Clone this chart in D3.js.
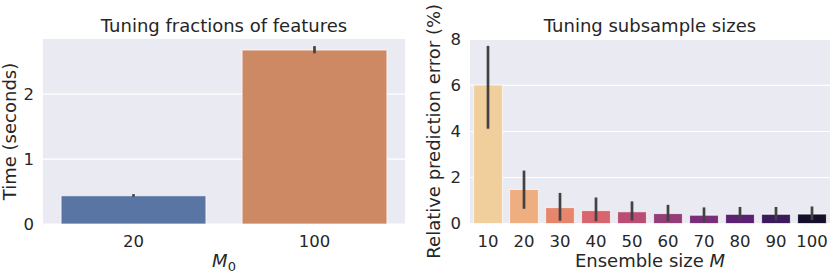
<!DOCTYPE html>
<html>
<head>
<meta charset="utf-8">
<script src="https://cdn.jsdelivr.net/npm/d3@7"></script>
<style>
  body { margin: 0; background: #fff; }
  svg text { font-family: "DejaVu Sans", sans-serif; fill: #262626; }
</style>
</head>
<body>
<div id="svg-container"></div>
<script>
// data
const featCats = ["20", "100"];
const featTime = [0.435, 2.68];
const featLo = [0.42, 2.63];
const featHi = [0.46, 2.74];
const featColors = ["#5975a4", "#cc8963"];

const sizeCats = ["10", "20", "30", "40", "50", "60", "70", "80", "90", "100"];
const sizeErr = [6.02, 1.48, 0.69, 0.56, 0.51, 0.43, 0.36, 0.40, 0.40, 0.41];
const sizeLo = [4.12, 0.64, 0.12, 0.10, 0.13, 0.10, 0.05, 0.15, 0.14, 0.15];
const sizeHi = [7.72, 2.30, 1.33, 1.13, 0.96, 0.81, 0.70, 0.72, 0.72, 0.74];
const sizeColors = ["#f1cf9d", "#eeae80", "#e6876d", "#d8646e", "#b94d73",
                    "#943d77", "#7a2e78", "#5b2173", "#3c1a5c", "#150f2c"];

const featTicks = [0, 1, 2];
const sizeTicks = [0, 2, 4, 6, 8];

const width = 831, height = 273;
const svg = d3.select("#svg-container").append("svg")
  .attr("width", width).attr("height", height);

function panel(o) {
  const x = d3.scaleBand().domain(o.cats).range([o.x0, o.x1]).paddingInner(0.2).paddingOuter(0.1);
  const y = d3.scaleLinear().domain(o.ydom).range([o.y1, o.y0]);
  const g = svg.append("g");

  g.append("rect")
    .attr("x", o.x0).attr("y", o.y0)
    .attr("width", o.x1 - o.x0).attr("height", o.y1 - o.y0)
    .attr("fill", "#eaeaf2");

  // grid
  g.selectAll(".grid").data(o.ticks).join("line")
    .attr("x1", o.x0).attr("x2", o.x1)
    .attr("y1", d => y(d)).attr("y2", d => y(d))
    .attr("stroke", "#fff").attr("stroke-width", 1.2);

  // y tick labels
  g.selectAll(".yt").data(o.ticks).join("text")
    .attr("x", o.x0 - 9).attr("y", d => y(d))
    .attr("dy", "0.36em")
    .attr("text-anchor", "end").style("font-size", "16.5px")
    .text(d => d);

  // bars
  g.selectAll(".bar").data(o.cats).join("rect")
    .attr("x", d => x(d)).attr("width", x.bandwidth())
    .attr("y", (d, i) => y(o.vals[i]))
    .attr("height", (d, i) => y(0) - y(o.vals[i]))
    .attr("fill", (d, i) => o.colors[i])
    .attr("stroke", "#fff").attr("stroke-opacity", 0.7).attr("stroke-width", 1);

  // error bars
  g.selectAll(".err").data(o.cats).join("line")
    .attr("x1", d => x(d) + x.bandwidth() / 2).attr("x2", d => x(d) + x.bandwidth() / 2)
    .attr("y1", (d, i) => y(o.lo[i])).attr("y2", (d, i) => y(o.hi[i]))
    .attr("stroke", "#424242").attr("stroke-width", 2.7);

  // x tick labels
  g.selectAll(".xt").data(o.cats).join("text")
    .attr("x", d => x(d) + x.bandwidth() / 2).attr("y", 247)
    .attr("text-anchor", "middle").style("font-size", "16.5px")
    .text(d => d);

  // title
  g.append("text")
    .attr("x", (o.x0 + o.x1) / 2).attr("y", 32)
    .attr("text-anchor", "middle").style("font-size", "18px")
    .text(o.title);

  // y label
  g.append("text")
    .attr("transform", `translate(${o.ylabX},${(o.y0 + o.y1) / 2}) rotate(-90)`)
    .attr("text-anchor", "middle").style("font-size", "18px")
    .text(o.ylabel);

  // x label
  const xl = g.append("text")
    .attr("x", (o.x0 + o.x1) / 2).attr("y", 267)
    .attr("text-anchor", "middle").style("font-size", "18px");
  o.xlabel(xl);
}

panel({
  cats: featCats, vals: featTime, lo: featLo, hi: featHi, colors: featColors,
  x0: 43, x1: 405, y0: 39, y1: 224, ydom: [0, 2.85], ticks: featTicks,
  title: "Tuning fractions of features", ylabel: "Time (seconds)", ylabX: 15.5,
  xlabel: t => {
    t.append("tspan").style("font-style", "italic").text("M");
    t.append("tspan").attr("dy", 4).style("font-size", "13px").text("0");
  }
});

panel({
  cats: sizeCats, vals: sizeErr, lo: sizeLo, hi: sizeHi, colors: sizeColors,
  x0: 470, x1: 830, y0: 39, y1: 223.5, ydom: [0, 8.02], ticks: sizeTicks,
  title: "Tuning subsample sizes", ylabel: "Relative prediction error (%)", ylabX: 440,
  xlabel: t => {
    t.append("tspan").text("Ensemble size ");
    t.append("tspan").style("font-style", "italic").text("M");
  }
});
</script>
</body>
</html>
